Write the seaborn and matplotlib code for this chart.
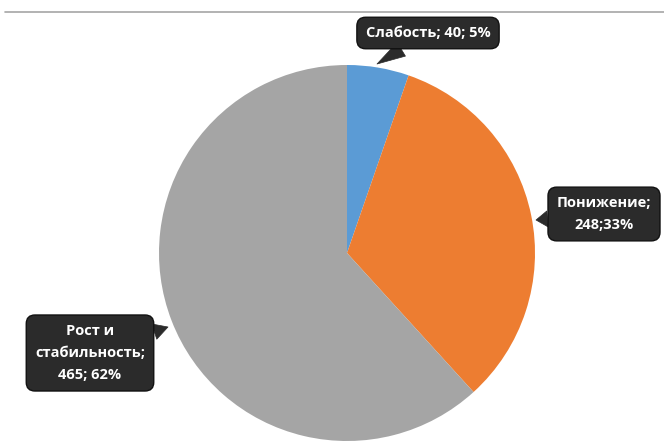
import matplotlib.pyplot as plt
import seaborn as sns

# Data
categories = ["Слабость", "Понижение", "Рост и\nстабильность"]
values = [40, 248, 465]
percents = [5, 33, 62]
colors = ["#5B9BD5", "#ED7D31", "#A5A5A5"]

sns.set_style("white")
plt.rcParams["font.family"] = ["Open Sans", "DejaVu Sans"]

fig = plt.figure(figsize=(6.64, 4.45), dpi=100)
ax = fig.add_axes([0, 0, 1, 1])

ax.pie(values, colors=colors, startangle=90, counterclock=False,
       center=(347, 192), radius=188, frame=True,
       wedgeprops=dict(linewidth=0))
ax.set_xlim(0, 664)
ax.set_ylim(0, 445)
ax.set_aspect("equal")
ax.axis("off")

# thin frame line at the top
ax.plot([5, 664], [433, 433], color="#A6A6A6", lw=1.2)

labels = [f"Слабость; {values[0]}; {percents[0]}%",
          f"Понижение;\n{values[1]};{percents[1]}%",
          f"Рост и\nстабильность;\n{values[2]}; {percents[2]}%"]
text_pos = [(428, 412), (604, 231), (90, 92)]
tips = [(377, 381), (536, 225), (168, 118)]

dark = "#2B2B2B"
for lab, tp, tip in zip(labels, text_pos, tips):
    ax.annotate(lab, xy=tip, xytext=tp, ha="center", va="center",
                color="white", fontsize=10.5, fontweight="bold",
                linespacing=1.75,
                bbox=dict(boxstyle="round,pad=0.6,rounding_size=0.6",
                          fc=dark, ec="#111111", lw=1),
                arrowprops=dict(arrowstyle="wedge,tail_width=1.1,shrink_factor=0.5",
                                fc=dark, ec=dark, lw=0.5,
                                shrinkA=0, shrinkB=0))

fig.savefig("out.png", dpi=100)
